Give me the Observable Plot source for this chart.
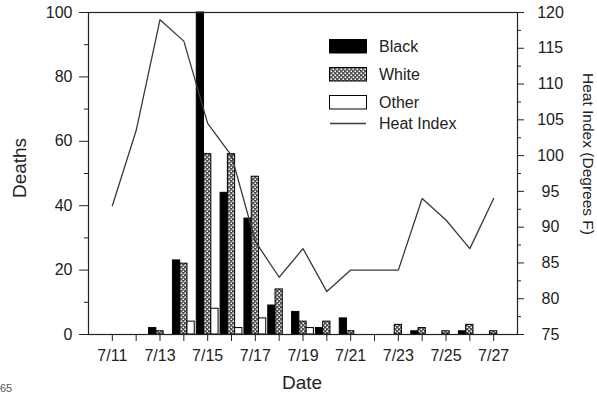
<!DOCTYPE html>
<html>
<head>
<meta charset="utf-8">
<script src="https://cdn.jsdelivr.net/npm/d3@7"></script>
<script src="https://cdn.jsdelivr.net/npm/@observablehq/plot@0.6"></script>
<style>
  html, body { margin: 0; padding: 0; background: #fff; overflow: hidden; }
  #chart svg { font-family: "Liberation Sans", Arial, sans-serif; display: block; }
</style>
</head>
<body>
<div id="chart"></div>
<script>
// ---- data ----
const days = [11, 12, 13, 14, 15, 16, 17, 18, 19, 20, 21, 22, 23, 24, 25, 26, 27];
const blackDeaths = [0, 0, 2, 23, 100, 44, 36, 9, 7, 2, 5, 0, 0, 1, 0, 1, 0];
const whiteDeaths = [0, 0, 1, 22, 56, 56, 49, 14, 4, 4, 1, 0, 3, 2, 1, 3, 1];
const otherDeaths = [0, 0, 0, 4, 8, 2, 5, 0, 2, 0, 0, 0, 0, 0, 0, 0, 0];
const heatIndex = [93, 103.5, 119, 116, 104.5, 100, 88, 83, 87, 81, 84, 84, 84, 94, 91, 87, 94];
const xTickDays = [11, 13, 15, 17, 19, 21, 23, 25, 27];
const xTickLabels = ["7/11", "7/13", "7/15", "7/17", "7/19", "7/21", "7/23", "7/25", "7/27"];
const deathTicks = [0, 20, 40, 60, 80, 100];
const deathMinorTicks = [10, 30, 50, 70, 90];
const heatTicks = [75, 80, 85, 90, 95, 100, 105, 110, 115, 120];
const heatMinorTicks = [77.5, 82.5, 87.5, 92.5, 97.5, 102.5, 107.5, 112.5, 117.5];
const seriesNames = ["Black", "White", "Other"];

// ---- scales mapping heat index onto the deaths axis ----
const hiMin = 75, hiMax = 120, dMin = 0, dMax = 100;
const toDeaths = h => dMin + (h - hiMin) / (hiMax - hiMin) * (dMax - dMin);
const toHeat = v => hiMin + (v - dMin) / (dMax - dMin) * (hiMax - hiMin);

const barW = 0.305;
const seriesValues = [blackDeaths, whiteDeaths, otherDeaths];
const bars = seriesNames.flatMap((name, k) =>
  days.map((day, i) => ({day, name, k, deaths: seriesValues[k][i]}))
).filter(b => b.deaths > 0);
const heatData = days.map((day, i) => ({day, hi: heatIndex[i]}));

const fills = {Black: "#000", White: "url(#whitePat)", Other: "#fff"};
const ink = "#222";

const barMark = name => Plot.rectY(bars.filter(b => b.name === name), {
  x1: b => b.day + (b.k - 1.5) * barW,
  x2: b => b.day + (b.k - 0.5) * barW,
  y1: 0,
  y2: "deaths",
  fill: fills[name],
  stroke: "#000",
  strokeWidth: 1
});

const svg = Plot.plot({
  width: 597,
  height: 394,
  marginLeft: 88,
  marginRight: 80,
  marginTop: 12,
  marginBottom: 60,
  style: {fontSize: "16px", color: ink, background: "#fff"},
  x: {type: "linear", domain: [10, 28]},
  y: {domain: [dMin, dMax]},
  marks: [
    barMark("Black"),
    barMark("White"),
    barMark("Other"),
    Plot.line(heatData, {x: "day", y: d => toDeaths(d.hi), stroke: "#3a3a3a", strokeWidth: 1.3}),
    Plot.frame({stroke: ink, strokeWidth: 1.2}),
    Plot.axisX({ticks: days, tickSize: 7, tickPadding: 8, label: null,
      tickFormat: d => { const j = xTickDays.indexOf(d); return j >= 0 ? xTickLabels[j] : ""; }}),
    Plot.axisY({ticks: deathTicks, tickSize: 9, tickPadding: 7, label: null, tickFormat: d => String(d)}),
    Plot.axisY({ticks: deathMinorTicks, tickSize: 4, label: null, tickFormat: () => ""}),
    Plot.axisY({anchor: "right", ticks: heatTicks.map(toDeaths), tickSize: 6, tickPadding: 27,
      textAnchor: "middle", label: null, tickFormat: v => String(Math.round(toHeat(v)))}),
    Plot.axisY({anchor: "right", ticks: heatMinorTicks.map(toDeaths), tickSize: 3, label: null, tickFormat: () => ""})
  ]
});

const s = d3.select(svg);
// pattern for "White"
const pat = s.insert("defs", ":first-child").append("pattern")
  .attr("id", "whitePat").attr("patternUnits", "userSpaceOnUse")
  .attr("width", 4).attr("height", 4);
pat.append("rect").attr("width", 4).attr("height", 4).attr("fill", "#555");
pat.append("rect").attr("x", 0.5).attr("y", 0.5).attr("width", 1.5).attr("height", 1.5).attr("fill", "#fff");
pat.append("rect").attr("x", 2.5).attr("y", 2.5).attr("width", 1.5).attr("height", 1.5).attr("fill", "#fff");

// axis titles
s.append("text").attr("transform", "translate(26,168) rotate(-90)")
  .attr("text-anchor", "middle").attr("font-size", 19).attr("fill", ink).text("Deaths");
s.append("text").attr("transform", "translate(583,154) rotate(90)")
  .attr("text-anchor", "middle").attr("font-size", 15.5).attr("fill", ink).text("Heat Index (Degrees F)");
s.append("text").attr("x", 302).attr("y", 389)
  .attr("text-anchor", "middle").attr("font-size", 19).attr("fill", ink).text("Date");
s.append("text").attr("x", 0).attr("y", 392)
  .attr("text-anchor", "start").attr("font-size", 11).attr("fill", "#555").text("65");

// legend
const lg = s.append("g").attr("font-size", 16).attr("fill", ink).attr("text-anchor", "start");
const legendRows = [
  {label: "Black", y: 39, type: "rect", fill: fills.Black},
  {label: "White", y: 67, type: "rect", fill: fills.White},
  {label: "Other", y: 95, type: "rect", fill: fills.Other},
  {label: "Heat Index", y: 116, type: "line"}
];
legendRows.forEach(r => {
  if (r.type === "rect") {
    lg.append("rect").attr("x", 329.5).attr("y", r.y + 0.5).attr("width", 37).attr("height", 13.5)
      .attr("fill", r.fill).attr("stroke", "#000").attr("stroke-width", 1);
  } else {
    lg.append("line").attr("x1", 330).attr("x2", 366).attr("y1", r.y + 7.5).attr("y2", r.y + 7.5)
      .attr("stroke", "#3a3a3a").attr("stroke-width", 1.3);
  }
  lg.append("text").attr("x", 379).attr("y", r.y + 7).attr("dy", "0.35em")
    .attr("text-anchor", "start").text(r.label);
});

document.getElementById("chart").appendChild(svg);
</script>
</body>
</html>
